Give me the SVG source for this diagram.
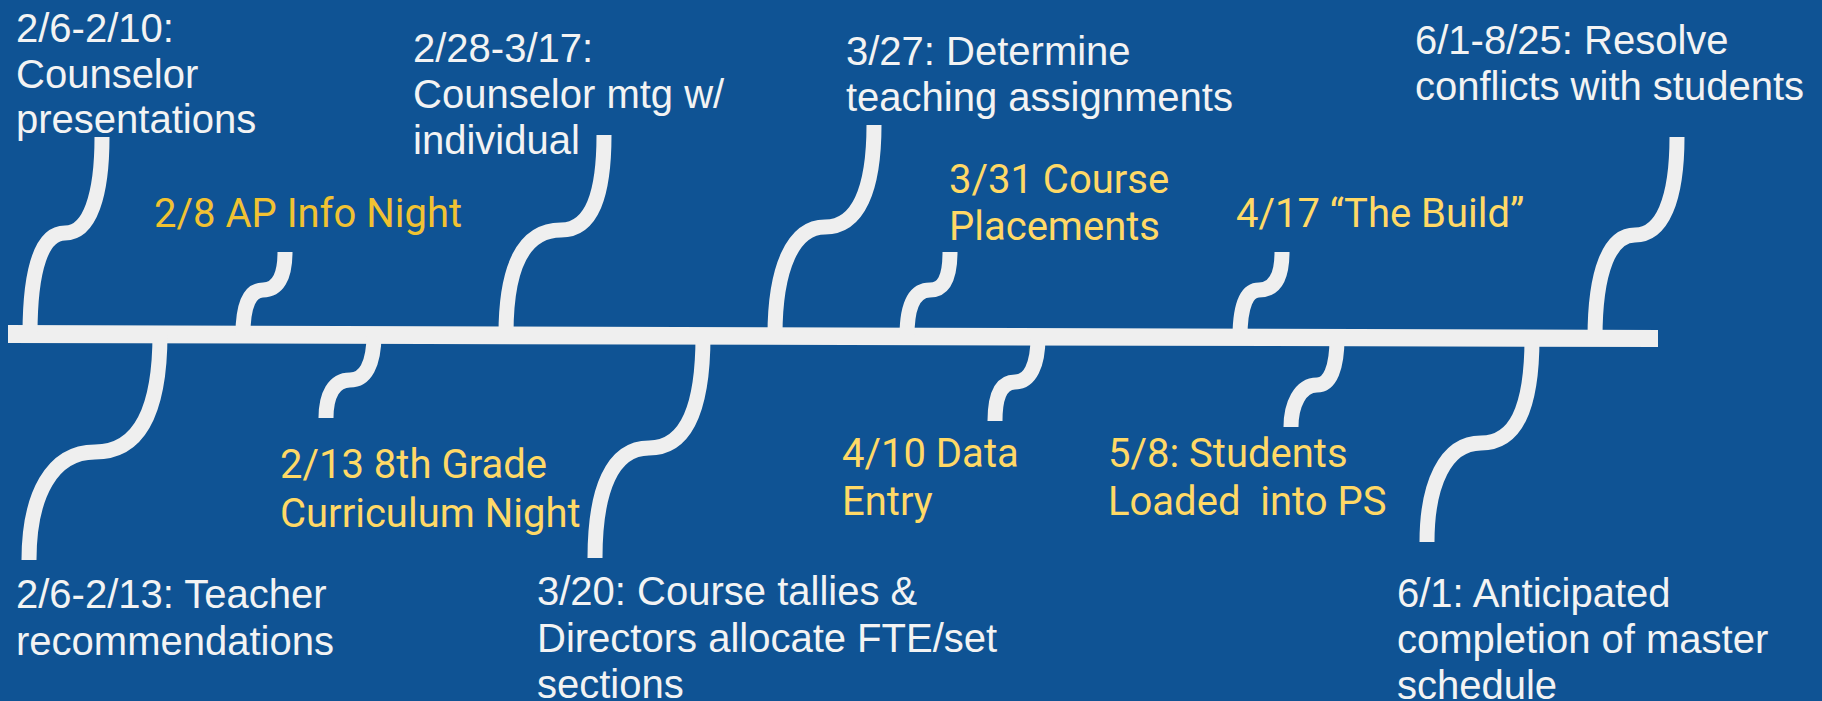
<svg xmlns="http://www.w3.org/2000/svg" width="1822" height="701" viewBox="0 0 1822 701">
<style>
.bg{fill:#0F5394}
.bar{fill:#EFEFEF}
.c{fill:none;stroke:#EFEFEF;stroke-width:15;stroke-linecap:butt}
.w{font-family:"Liberation Sans",Arial,sans-serif;font-size:40px;fill:#F3F3F3}
.y{font-family:Roboto,"Liberation Sans",sans-serif;font-size:40px;fill:#FFD966;white-space:pre}
.y2{fill:#F1C232}
</style>
<rect class="bg" x="0" y="0" width="1822" height="701"/>
<g id="connectors">
<polygon class="bar" points="8,325 1658,330 1658,347 8,343"/>
<path class="c" d="M 30 334 C 30 268 42 233 65 233 C 90 233 102 195 102 137"/>
<path class="c" d="M 243 334 C 243 305 250 290 263 290 C 277 290 285 278 285 252"/>
<path class="c" d="M 506 334 C 506 268 523 230 561 230 C 592 230 604 195 604 135"/>
<path class="c" d="M 775 335 C 775 268 793 227 825 227 C 858 227 874 190 874 125"/>
<path class="c" d="M 907 336 C 907 305 915 290 930 290 C 944 290 950 278 950 252"/>
<path class="c" d="M 1240 337 C 1240 305 1247 290 1259 290 C 1274 290 1282 278 1282 252"/>
<path class="c" d="M 1595 338 C 1595 270 1610 235 1635 235 C 1662 235 1677 200 1677 137"/>
<path class="c" d="M 160 334 C 160 410 140 452 95 452 C 52 452 29 495 29 560"/>
<path class="c" d="M 374 334 C 374 365 365 380 350 380 C 334 380 326 395 326 418"/>
<path class="c" d="M 703 336 C 703 410 685 448 649 448 C 612 448 595 490 595 558"/>
<path class="c" d="M 1038 337 C 1038 365 1030 382 1015 382 C 1000 382 995 398 995 421"/>
<path class="c" d="M 1337 338 C 1337 368 1330 385 1317 385 C 1300 385 1291 405 1291 427"/>
<path class="c" d="M 1532 338 C 1532 410 1515 443 1481 443 C 1445 443 1427 485 1427 542"/>
</g>
<g id="n-counselor-presentations"><text class="w" x="16" y="42">2/6-2/10:</text><text class="w" x="16" y="88">Counselor</text><text class="w" x="16" y="133">presentations</text></g>
<g id="n-counselor-mtg"><text class="w" x="413" y="62">2/28-3/17:</text><text class="w" x="413" y="108">Counselor mtg w/</text><text class="w" x="413" y="154">individual</text></g>
<g id="n-teaching-assignments"><text class="w" x="846" y="65">3/27: Determine</text><text class="w" x="846" y="111">teaching assignments</text></g>
<g id="n-resolve-conflicts"><text class="w" x="1415" y="54">6/1-8/25: Resolve</text><text class="w" x="1415" y="100">conflicts with students</text></g>
<g id="n-ap-info"><text class="y y2" x="154" y="227">2/8 AP Info Night</text></g>
<g id="n-course-placements"><text class="y" x="949" y="193">3/31 Course</text><text class="y" x="949" y="240">Placements</text></g>
<g id="n-the-build"><text class="y" x="1236" y="227">4/17 “The Build”</text></g>
<g id="n-curriculum-night"><text class="y" x="280" y="478">2/13 8th Grade</text><text class="y" x="280" y="527">Curriculum Night</text></g>
<g id="n-data-entry"><text class="y" x="842" y="467">4/10 Data</text><text class="y" x="842" y="515">Entry</text></g>
<g id="n-students-loaded"><text class="y" x="1108" y="467">5/8: Students</text><text class="y" x="1108" y="515">Loaded  into PS</text></g>
<g id="n-teacher-recs"><text class="w" x="16" y="608">2/6-2/13: Teacher</text><text class="w" x="16" y="655">recommendations</text></g>
<g id="n-course-tallies"><text class="w" x="537" y="605">3/20: Course tallies &amp;</text><text class="w" x="537" y="652">Directors allocate FTE/set</text><text class="w" x="537" y="698">sections</text></g>
<g id="n-master-schedule"><text class="w" x="1397" y="607">6/1: Anticipated</text><text class="w" x="1397" y="653">completion of master</text><text class="w" x="1397" y="699">schedule</text></g>
</svg>
